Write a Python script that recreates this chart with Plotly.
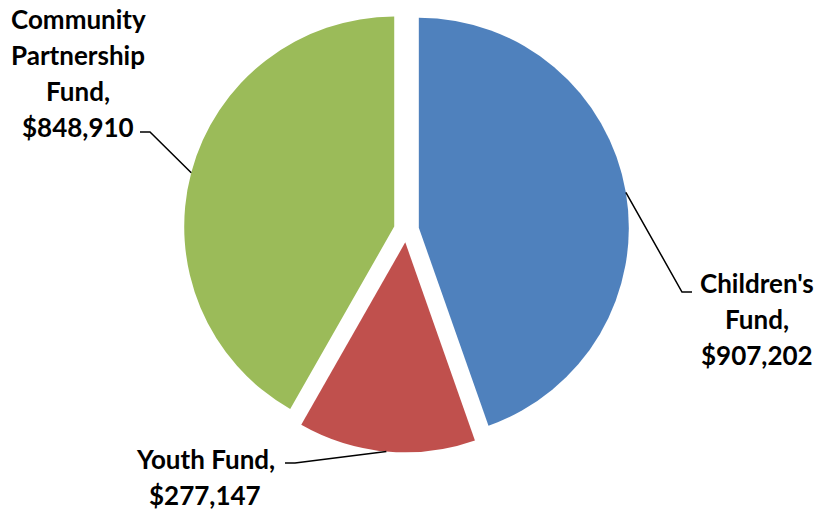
import math
import plotly.graph_objects as go

# ---- data ----
labels = ["Children's Fund", "Youth Fund", "Community Partnership Fund"]
values = [907202, 277147, 848910]
label_lines = [["Children's", "Fund,", "$907,202"],
               ["Youth Fund,", "$277,147"],
               ["Community", "Partnership", "Fund,", "$848,910"]]
colors = ["#4F81BD", "#C0504D", "#9BBB59"]

# ---- layout constants (pixels, page coordinates) ----
W, H = 820, 512
CX, CY = 406.4, 229.8      # pie centre
R = 210.0                  # pie radius
PULL = 0.06
FONT = "Lato"
FSIZE = 26
LINE_GAP = 36

half = R * (1 + PULL)
def px2paper(x, y):
    return x / W, (H - y) / H

x0, y1 = px2paper(CX - half, CY - half)
x1, y0 = px2paper(CX + half, CY + half)
y1 = min(y1, 1.0)
x0 = max(x0, 0.0)

fig = go.Figure(go.Pie(
    labels=labels, values=values, sort=False, direction="clockwise", rotation=0,
    pull=[PULL] * len(values), textinfo="none", hoverinfo="label+value",
    marker=dict(colors=colors, line=dict(width=0)),
    domain=dict(x=[x0, x1], y=[y0, y1]), showlegend=False,
))

# label placement (pixels): centre x / first line centre y, elbow, line end
label_pos = [(757, 283), (205, 459), (78, 19)]
elbows = [((682, 292), (692, 292)),
          ((295, 463), (285, 463)),
          ((150, 132), (140, 132))]

total = sum(values)
cum = 0
shapes = []
annotations = []
for i, v in enumerate(values):
    mid = (cum + v / 2) / total * 2 * math.pi  # clockwise from top
    cum += v
    sx = CX + PULL * R * math.sin(mid)
    sy = CY - PULL * R * math.cos(mid)
    ax = sx + R * math.sin(mid)
    ay = sy - R * math.cos(mid)
    (ex, ey), (fx, fy) = elbows[i]
    pts = [px2paper(ax, ay), px2paper(ex, ey), px2paper(fx, fy)]
    path = "M {} {} L {} {} L {} {}".format(pts[0][0], pts[0][1], pts[1][0], pts[1][1], pts[2][0], pts[2][1])
    shapes.append(dict(type="path", xref="paper", yref="paper", path=path,
                       line=dict(color="black", width=1.5)))
    bx, by = label_pos[i]
    for k, line in enumerate(label_lines[i]):
        lx, ly = px2paper(bx, by + k * LINE_GAP)
        annotations.append(dict(x=lx, y=ly, xref="paper", yref="paper",
                                text="<b>" + line + "</b>",
                                showarrow=False, xanchor="center", yanchor="middle", align="center",
                                font=dict(family=FONT, size=FSIZE, color="black")))

fig.update_layout(
    width=W, height=H, margin=dict(l=0, r=0, t=0, b=0),
    paper_bgcolor="white", plot_bgcolor="white",
    shapes=shapes, annotations=annotations,
)
fig.write_html("out.html", config={"displayModeBar": False},
               post_script="document.body.style.margin='0';document.body.style.overflow='hidden';")
